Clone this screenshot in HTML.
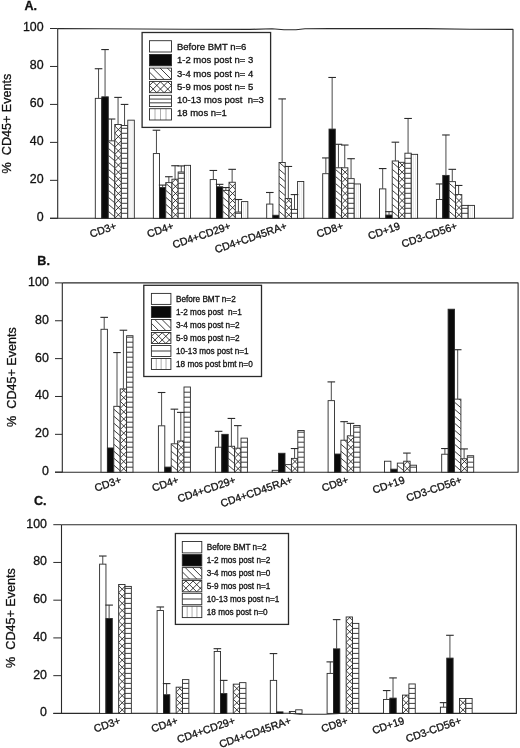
<!DOCTYPE html><html><head><meta charset="utf-8"><title>CD45+ Events</title><style>html,body{margin:0;padding:0;background:#fff;}svg{display:block;filter:grayscale(1) blur(0.35px);}text{stroke:#111;stroke-width:0.3px;}</style></head><body><svg width="520" height="748" viewBox="0 0 520 748" shape-rendering="geometricPrecision"><rect width="520" height="748" fill="#fff"/><text x="24.5" y="10.1" font-family="Liberation Sans" font-weight="bold" font-size="12.6" fill="#111">A.</text><text transform="translate(11.4 123.5) rotate(-90)" text-anchor="middle" font-family="Liberation Sans" font-size="12.6" fill="#111" xml:space="preserve">%  CD45+ Events</text><path d="M50 218.3H57.7" stroke="#2a2a2a" stroke-width="1"/><text x="43.6" y="221.2" text-anchor="end" font-family="Liberation Sans" font-size="12.4" fill="#111">0</text><path d="M50 180.34H57.7" stroke="#2a2a2a" stroke-width="1"/><text x="43.6" y="183.24" text-anchor="end" font-family="Liberation Sans" font-size="12.4" fill="#111">20</text><path d="M50 142.38H57.7" stroke="#2a2a2a" stroke-width="1"/><text x="43.6" y="145.28" text-anchor="end" font-family="Liberation Sans" font-size="12.4" fill="#111">40</text><path d="M50 104.42H57.7" stroke="#2a2a2a" stroke-width="1"/><text x="43.6" y="107.32" text-anchor="end" font-family="Liberation Sans" font-size="12.4" fill="#111">60</text><path d="M50 66.46H57.7" stroke="#2a2a2a" stroke-width="1"/><text x="43.6" y="69.36" text-anchor="end" font-family="Liberation Sans" font-size="12.4" fill="#111">80</text><path d="M50 28.5H57.7" stroke="#2a2a2a" stroke-width="1"/><text x="43.6" y="31.4" text-anchor="end" font-family="Liberation Sans" font-size="12.4" fill="#111">100</text><path d="M57.7 28.5V218.3L513 218.3V29.4L470 29.3L425 28.6L330 28.6L305 28.8L296 29.8L284 29.8L272 28.7L250 29.4L185 29.2L57.7 28.5" fill="none" stroke="#2a2a2a" stroke-width="1.1" stroke-linejoin="round"/><path d="M50 218.3H57.7" stroke="#2a2a2a" stroke-width="1.1"/><rect x="95.3" y="98.35" width="6.5" height="119.95" fill="#fff"/><rect x="95.3" y="98.35" width="6.5" height="119.95" fill="none" stroke="#2a2a2a" stroke-width="0.9"/><rect x="101.8" y="96.83" width="6.5" height="121.47" fill="#0a0a0a" stroke="#2a2a2a" stroke-width="0.9"/><rect x="108.3" y="140.86" width="6.5" height="77.44" fill="#fff"/><clipPath id="c1"><rect x="108.3" y="140.86" width="6.5" height="77.44"/></clipPath><g clip-path="url(#c1)" stroke="#1a1a1a" stroke-width="0.85" fill="none"><path d="M108.3 127.3L114.8 132.89M108.3 134.3L114.8 139.89M108.3 141.3L114.8 146.89M108.3 148.3L114.8 153.89M108.3 155.3L114.8 160.89M108.3 162.3L114.8 167.89M108.3 169.3L114.8 174.89M108.3 176.3L114.8 181.89M108.3 183.3L114.8 188.89M108.3 190.3L114.8 195.89M108.3 197.3L114.8 202.89M108.3 204.3L114.8 209.89M108.3 211.3L114.8 216.89M108.3 218.3L114.8 223.89M108.3 225.3L114.8 230.89"/></g><rect x="108.3" y="140.86" width="6.5" height="77.44" fill="none" stroke="#2a2a2a" stroke-width="0.9"/><rect x="114.8" y="124.54" width="6.5" height="93.76" fill="#fff"/><clipPath id="c2"><rect x="114.8" y="124.54" width="6.5" height="93.76"/></clipPath><g clip-path="url(#c2)" stroke="#1a1a1a" stroke-width="0.85" fill="none"><path d="M114.8 104.7L121.3 111.2M114.8 111.8L121.3 118.3M114.8 118.9L121.3 125.4M114.8 126L121.3 132.5M114.8 133.1L121.3 139.6M114.8 140.2L121.3 146.7M114.8 147.3L121.3 153.8M114.8 154.4L121.3 160.9M114.8 161.5L121.3 168M114.8 168.6L121.3 175.1M114.8 175.7L121.3 182.2M114.8 182.8L121.3 189.3M114.8 189.9L121.3 196.4M114.8 197L121.3 203.5M114.8 204.1L121.3 210.6M114.8 211.2L121.3 217.7M114.8 218.3L121.3 224.8M114.8 225.4L121.3 231.9M114.8 111.8L121.3 105.3M114.8 118.9L121.3 112.4M114.8 126L121.3 119.5M114.8 133.1L121.3 126.6M114.8 140.2L121.3 133.7M114.8 147.3L121.3 140.8M114.8 154.4L121.3 147.9M114.8 161.5L121.3 155M114.8 168.6L121.3 162.1M114.8 175.7L121.3 169.2M114.8 182.8L121.3 176.3M114.8 189.9L121.3 183.4M114.8 197L121.3 190.5M114.8 204.1L121.3 197.6M114.8 211.2L121.3 204.7M114.8 218.3L121.3 211.8M114.8 225.4L121.3 218.9M114.8 232.5L121.3 226"/></g><rect x="114.8" y="124.54" width="6.5" height="93.76" fill="none" stroke="#2a2a2a" stroke-width="0.9"/><rect x="121.3" y="125.49" width="6.5" height="92.81" fill="#fff"/><clipPath id="c3"><rect x="121.3" y="125.49" width="6.5" height="92.81"/></clipPath><g clip-path="url(#c3)" stroke="#1a1a1a" stroke-width="0.85" fill="none"><path d="M121.3 213.3H127.8M121.3 208.3H127.8M121.3 203.3H127.8M121.3 198.3H127.8M121.3 193.3H127.8M121.3 188.3H127.8M121.3 183.3H127.8M121.3 178.3H127.8M121.3 173.3H127.8M121.3 168.3H127.8M121.3 163.3H127.8M121.3 158.3H127.8M121.3 153.3H127.8M121.3 148.3H127.8M121.3 143.3H127.8M121.3 138.3H127.8M121.3 133.3H127.8M121.3 128.3H127.8"/></g><rect x="121.3" y="125.49" width="6.5" height="92.81" fill="none" stroke="#2a2a2a" stroke-width="0.9"/><rect x="127.8" y="120.17" width="6.5" height="98.13" fill="#fff"/><clipPath id="c4"><rect x="127.8" y="120.17" width="6.5" height="98.13"/></clipPath><g clip-path="url(#c4)" stroke="#d8d8d8" stroke-width="0.6" fill="none"><path d="M129.97 120.17V218.3M132.13 120.17V218.3"/></g><rect x="127.8" y="120.17" width="6.5" height="98.13" fill="none" stroke="#2a2a2a" stroke-width="0.9"/><path d="M98.55 98.35V68.74" stroke="#4a4a4a" stroke-width="1" fill="none"/><path d="M94.75 68.74H102.35" stroke="#2a2a2a" stroke-width="1.1" fill="none"/><path d="M105.05 96.83V49.57" stroke="#4a4a4a" stroke-width="1" fill="none"/><path d="M101.25 49.57H108.85" stroke="#2a2a2a" stroke-width="1.1" fill="none"/><path d="M111.55 140.86V119.03" stroke="#4a4a4a" stroke-width="1" fill="none"/><path d="M107.75 119.03H115.35" stroke="#2a2a2a" stroke-width="1.1" fill="none"/><path d="M118.05 124.54V97.4" stroke="#4a4a4a" stroke-width="1" fill="none"/><path d="M114.25 97.4H121.85" stroke="#2a2a2a" stroke-width="1.1" fill="none"/><path d="M124.55 125.49V104.42" stroke="#4a4a4a" stroke-width="1" fill="none"/><path d="M120.75 104.42H128.35" stroke="#2a2a2a" stroke-width="1.1" fill="none"/><text transform="translate(117.2 228.8) rotate(-19)" text-anchor="end" font-family="Liberation Sans" font-size="10.6" fill="#111">CD3+</text><rect x="153.35" y="153.58" width="6.2" height="64.72" fill="#fff"/><rect x="153.35" y="153.58" width="6.2" height="64.72" fill="none" stroke="#2a2a2a" stroke-width="0.9"/><rect x="159.55" y="187.55" width="6.2" height="30.75" fill="#0a0a0a" stroke="#2a2a2a" stroke-width="0.9"/><rect x="165.75" y="182.62" width="6.2" height="35.68" fill="#fff"/><clipPath id="c5"><rect x="165.75" y="182.62" width="6.2" height="35.68"/></clipPath><g clip-path="url(#c5)" stroke="#1a1a1a" stroke-width="0.85" fill="none"><path d="M165.75 169.3L171.95 174.63M165.75 176.3L171.95 181.63M165.75 183.3L171.95 188.63M165.75 190.3L171.95 195.63M165.75 197.3L171.95 202.63M165.75 204.3L171.95 209.63M165.75 211.3L171.95 216.63M165.75 218.3L171.95 223.63M165.75 225.3L171.95 230.63"/></g><rect x="165.75" y="182.62" width="6.2" height="35.68" fill="none" stroke="#2a2a2a" stroke-width="0.9"/><rect x="171.95" y="179.2" width="6.2" height="39.1" fill="#fff"/><clipPath id="c6"><rect x="171.95" y="179.2" width="6.2" height="39.1"/></clipPath><g clip-path="url(#c6)" stroke="#1a1a1a" stroke-width="0.85" fill="none"><path d="M171.95 161.5L178.15 167.7M171.95 168.6L178.15 174.8M171.95 175.7L178.15 181.9M171.95 182.8L178.15 189M171.95 189.9L178.15 196.1M171.95 197L178.15 203.2M171.95 204.1L178.15 210.3M171.95 211.2L178.15 217.4M171.95 218.3L178.15 224.5M171.95 225.4L178.15 231.6M171.95 168.6L178.15 162.4M171.95 175.7L178.15 169.5M171.95 182.8L178.15 176.6M171.95 189.9L178.15 183.7M171.95 197L178.15 190.8M171.95 204.1L178.15 197.9M171.95 211.2L178.15 205M171.95 218.3L178.15 212.1M171.95 225.4L178.15 219.2M171.95 232.5L178.15 226.3"/></g><rect x="171.95" y="179.2" width="6.2" height="39.1" fill="none" stroke="#2a2a2a" stroke-width="0.9"/><rect x="178.15" y="171.99" width="6.2" height="46.31" fill="#fff"/><clipPath id="c7"><rect x="178.15" y="171.99" width="6.2" height="46.31"/></clipPath><g clip-path="url(#c7)" stroke="#1a1a1a" stroke-width="0.85" fill="none"><path d="M178.15 213.3H184.35M178.15 208.3H184.35M178.15 203.3H184.35M178.15 198.3H184.35M178.15 193.3H184.35M178.15 188.3H184.35M178.15 183.3H184.35M178.15 178.3H184.35M178.15 173.3H184.35"/></g><rect x="178.15" y="171.99" width="6.2" height="46.31" fill="none" stroke="#2a2a2a" stroke-width="0.9"/><rect x="184.35" y="165.35" width="6.2" height="52.95" fill="#fff"/><clipPath id="c8"><rect x="184.35" y="165.35" width="6.2" height="52.95"/></clipPath><g clip-path="url(#c8)" stroke="#d8d8d8" stroke-width="0.6" fill="none"><path d="M186.42 165.35V218.3M188.48 165.35V218.3"/></g><rect x="184.35" y="165.35" width="6.2" height="52.95" fill="none" stroke="#2a2a2a" stroke-width="0.9"/><path d="M156.45 153.58V130.23" stroke="#4a4a4a" stroke-width="1" fill="none"/><path d="M152.65 130.23H160.25" stroke="#2a2a2a" stroke-width="1.1" fill="none"/><path d="M162.65 187.55V185.09" stroke="#4a4a4a" stroke-width="1" fill="none"/><path d="M158.85 185.09H166.45" stroke="#2a2a2a" stroke-width="1.1" fill="none"/><path d="M168.85 182.62V176.73" stroke="#4a4a4a" stroke-width="1" fill="none"/><path d="M165.05 176.73H172.65" stroke="#2a2a2a" stroke-width="1.1" fill="none"/><path d="M175.05 179.2V165.73" stroke="#4a4a4a" stroke-width="1" fill="none"/><path d="M171.25 165.73H178.85" stroke="#2a2a2a" stroke-width="1.1" fill="none"/><path d="M181.25 171.99V165.92" stroke="#4a4a4a" stroke-width="1" fill="none"/><path d="M177.45 165.92H185.05" stroke="#2a2a2a" stroke-width="1.1" fill="none"/><text transform="translate(174.35 228.8) rotate(-19)" text-anchor="end" font-family="Liberation Sans" font-size="10.6" fill="#111">CD4+</text><rect x="210.2" y="179.58" width="6.27" height="38.72" fill="#fff"/><rect x="210.2" y="179.58" width="6.27" height="38.72" fill="none" stroke="#2a2a2a" stroke-width="0.9"/><rect x="216.47" y="186.79" width="6.27" height="31.51" fill="#0a0a0a" stroke="#2a2a2a" stroke-width="0.9"/><rect x="222.74" y="190.4" width="6.27" height="27.9" fill="#fff"/><clipPath id="c9"><rect x="222.74" y="190.4" width="6.27" height="27.9"/></clipPath><g clip-path="url(#c9)" stroke="#1a1a1a" stroke-width="0.85" fill="none"><path d="M222.74 176.3L229.01 181.69M222.74 183.3L229.01 188.69M222.74 190.3L229.01 195.69M222.74 197.3L229.01 202.69M222.74 204.3L229.01 209.69M222.74 211.3L229.01 216.69M222.74 218.3L229.01 223.69M222.74 225.3L229.01 230.69"/></g><rect x="222.74" y="190.4" width="6.27" height="27.9" fill="none" stroke="#2a2a2a" stroke-width="0.9"/><rect x="229.01" y="182.24" width="6.27" height="36.06" fill="#fff"/><clipPath id="c10"><rect x="229.01" y="182.24" width="6.27" height="36.06"/></clipPath><g clip-path="url(#c10)" stroke="#1a1a1a" stroke-width="0.85" fill="none"><path d="M229.01 168.6L235.28 174.87M229.01 175.7L235.28 181.97M229.01 182.8L235.28 189.07M229.01 189.9L235.28 196.17M229.01 197L235.28 203.27M229.01 204.1L235.28 210.37M229.01 211.2L235.28 217.47M229.01 218.3L235.28 224.57M229.01 225.4L235.28 231.67M229.01 168.6L235.28 162.33M229.01 175.7L235.28 169.43M229.01 182.8L235.28 176.53M229.01 189.9L235.28 183.63M229.01 197L235.28 190.73M229.01 204.1L235.28 197.83M229.01 211.2L235.28 204.93M229.01 218.3L235.28 212.03M229.01 225.4L235.28 219.13M229.01 232.5L235.28 226.23"/></g><rect x="229.01" y="182.24" width="6.27" height="36.06" fill="none" stroke="#2a2a2a" stroke-width="0.9"/><rect x="235.28" y="212.04" width="6.27" height="6.26" fill="#fff"/><clipPath id="c11"><rect x="235.28" y="212.04" width="6.27" height="6.26"/></clipPath><g clip-path="url(#c11)" stroke="#1a1a1a" stroke-width="0.85" fill="none"><path d="M235.28 213.3H241.55"/></g><rect x="235.28" y="212.04" width="6.27" height="6.26" fill="none" stroke="#2a2a2a" stroke-width="0.9"/><rect x="241.55" y="201.6" width="6.27" height="16.7" fill="#fff"/><clipPath id="c12"><rect x="241.55" y="201.6" width="6.27" height="16.7"/></clipPath><g clip-path="url(#c12)" stroke="#d8d8d8" stroke-width="0.6" fill="none"><path d="M243.64 201.6V218.3M245.73 201.6V218.3"/></g><rect x="241.55" y="201.6" width="6.27" height="16.7" fill="none" stroke="#2a2a2a" stroke-width="0.9"/><path d="M213.33 179.58V170.47" stroke="#4a4a4a" stroke-width="1" fill="none"/><path d="M209.53 170.47H217.13" stroke="#2a2a2a" stroke-width="1.1" fill="none"/><path d="M219.6 186.79V184.33" stroke="#4a4a4a" stroke-width="1" fill="none"/><path d="M215.8 184.33H223.41" stroke="#2a2a2a" stroke-width="1.1" fill="none"/><path d="M225.87 190.4V187.55" stroke="#4a4a4a" stroke-width="1" fill="none"/><path d="M222.07 187.55H229.67" stroke="#2a2a2a" stroke-width="1.1" fill="none"/><path d="M232.14 182.24V169.33" stroke="#4a4a4a" stroke-width="1" fill="none"/><path d="M228.34 169.33H235.94" stroke="#2a2a2a" stroke-width="1.1" fill="none"/><path d="M238.41 212.04V199.51" stroke="#4a4a4a" stroke-width="1" fill="none"/><path d="M234.61 199.51H242.21" stroke="#2a2a2a" stroke-width="1.1" fill="none"/><text transform="translate(231.41 228.8) rotate(-19)" text-anchor="end" font-family="Liberation Sans" font-size="10.6" fill="#111">CD4+CD29+</text><rect x="266.7" y="204.06" width="6.18" height="14.24" fill="#fff"/><rect x="266.7" y="204.06" width="6.18" height="14.24" fill="none" stroke="#2a2a2a" stroke-width="0.9"/><rect x="272.88" y="215.26" width="6.18" height="3.04" fill="#0a0a0a" stroke="#2a2a2a" stroke-width="0.9"/><rect x="279.06" y="162.5" width="6.18" height="55.8" fill="#fff"/><clipPath id="c13"><rect x="279.06" y="162.5" width="6.18" height="55.8"/></clipPath><g clip-path="url(#c13)" stroke="#1a1a1a" stroke-width="0.85" fill="none"><path d="M279.06 148.3L285.24 153.61M279.06 155.3L285.24 160.61M279.06 162.3L285.24 167.61M279.06 169.3L285.24 174.61M279.06 176.3L285.24 181.61M279.06 183.3L285.24 188.61M279.06 190.3L285.24 195.61M279.06 197.3L285.24 202.61M279.06 204.3L285.24 209.61M279.06 211.3L285.24 216.61M279.06 218.3L285.24 223.61M279.06 225.3L285.24 230.61"/></g><rect x="279.06" y="162.5" width="6.18" height="55.8" fill="none" stroke="#2a2a2a" stroke-width="0.9"/><rect x="285.24" y="198.56" width="6.18" height="19.74" fill="#fff"/><clipPath id="c14"><rect x="285.24" y="198.56" width="6.18" height="19.74"/></clipPath><g clip-path="url(#c14)" stroke="#1a1a1a" stroke-width="0.85" fill="none"><path d="M285.24 182.8L291.42 188.98M285.24 189.9L291.42 196.08M285.24 197L291.42 203.18M285.24 204.1L291.42 210.28M285.24 211.2L291.42 217.38M285.24 218.3L291.42 224.48M285.24 225.4L291.42 231.58M285.24 189.9L291.42 183.72M285.24 197L291.42 190.82M285.24 204.1L291.42 197.92M285.24 211.2L291.42 205.02M285.24 218.3L291.42 212.12M285.24 225.4L291.42 219.22M285.24 232.5L291.42 226.32"/></g><rect x="285.24" y="198.56" width="6.18" height="19.74" fill="none" stroke="#2a2a2a" stroke-width="0.9"/><rect x="291.42" y="209.38" width="6.18" height="8.92" fill="#fff"/><clipPath id="c15"><rect x="291.42" y="209.38" width="6.18" height="8.92"/></clipPath><g clip-path="url(#c15)" stroke="#1a1a1a" stroke-width="0.85" fill="none"><path d="M291.42 213.3H297.6"/></g><rect x="291.42" y="209.38" width="6.18" height="8.92" fill="none" stroke="#2a2a2a" stroke-width="0.9"/><rect x="297.6" y="181.48" width="6.18" height="36.82" fill="#fff"/><clipPath id="c16"><rect x="297.6" y="181.48" width="6.18" height="36.82"/></clipPath><g clip-path="url(#c16)" stroke="#d8d8d8" stroke-width="0.6" fill="none"><path d="M299.66 181.48V218.3M301.72 181.48V218.3"/></g><rect x="297.6" y="181.48" width="6.18" height="36.82" fill="none" stroke="#2a2a2a" stroke-width="0.9"/><path d="M269.79 204.06V192.49" stroke="#4a4a4a" stroke-width="1" fill="none"/><path d="M265.99 192.49H273.59" stroke="#2a2a2a" stroke-width="1.1" fill="none"/><path d="M282.15 162.5V98.92" stroke="#4a4a4a" stroke-width="1" fill="none"/><path d="M278.35 98.92H285.95" stroke="#2a2a2a" stroke-width="1.1" fill="none"/><path d="M288.33 198.56V166.48" stroke="#4a4a4a" stroke-width="1" fill="none"/><path d="M284.53 166.48H292.13" stroke="#2a2a2a" stroke-width="1.1" fill="none"/><path d="M294.51 209.38V194.58" stroke="#4a4a4a" stroke-width="1" fill="none"/><path d="M290.71 194.58H298.31" stroke="#2a2a2a" stroke-width="1.1" fill="none"/><text transform="translate(287.64 228.8) rotate(-19)" text-anchor="end" font-family="Liberation Sans" font-size="10.6" fill="#111">CD4+CD45RA+</text><rect x="322.7" y="173.7" width="6.3" height="44.6" fill="#fff"/><rect x="322.7" y="173.7" width="6.3" height="44.6" fill="none" stroke="#2a2a2a" stroke-width="0.9"/><rect x="329" y="129.09" width="6.3" height="89.21" fill="#0a0a0a" stroke="#2a2a2a" stroke-width="0.9"/><rect x="335.3" y="167.81" width="6.3" height="50.49" fill="#fff"/><clipPath id="c17"><rect x="335.3" y="167.81" width="6.3" height="50.49"/></clipPath><g clip-path="url(#c17)" stroke="#1a1a1a" stroke-width="0.85" fill="none"><path d="M335.3 155.3L341.6 160.72M335.3 162.3L341.6 167.72M335.3 169.3L341.6 174.72M335.3 176.3L341.6 181.72M335.3 183.3L341.6 188.72M335.3 190.3L341.6 195.72M335.3 197.3L341.6 202.72M335.3 204.3L341.6 209.72M335.3 211.3L341.6 216.72M335.3 218.3L341.6 223.72M335.3 225.3L341.6 230.72"/></g><rect x="335.3" y="167.81" width="6.3" height="50.49" fill="none" stroke="#2a2a2a" stroke-width="0.9"/><rect x="341.6" y="167.81" width="6.3" height="50.49" fill="#fff"/><clipPath id="c18"><rect x="341.6" y="167.81" width="6.3" height="50.49"/></clipPath><g clip-path="url(#c18)" stroke="#1a1a1a" stroke-width="0.85" fill="none"><path d="M341.6 154.4L347.9 160.7M341.6 161.5L347.9 167.8M341.6 168.6L347.9 174.9M341.6 175.7L347.9 182M341.6 182.8L347.9 189.1M341.6 189.9L347.9 196.2M341.6 197L347.9 203.3M341.6 204.1L347.9 210.4M341.6 211.2L347.9 217.5M341.6 218.3L347.9 224.6M341.6 225.4L347.9 231.7M341.6 154.4L347.9 148.1M341.6 161.5L347.9 155.2M341.6 168.6L347.9 162.3M341.6 175.7L347.9 169.4M341.6 182.8L347.9 176.5M341.6 189.9L347.9 183.6M341.6 197L347.9 190.7M341.6 204.1L347.9 197.8M341.6 211.2L347.9 204.9M341.6 218.3L347.9 212M341.6 225.4L347.9 219.1M341.6 232.5L347.9 226.2"/></g><rect x="341.6" y="167.81" width="6.3" height="50.49" fill="none" stroke="#2a2a2a" stroke-width="0.9"/><rect x="347.9" y="178.63" width="6.3" height="39.67" fill="#fff"/><clipPath id="c19"><rect x="347.9" y="178.63" width="6.3" height="39.67"/></clipPath><g clip-path="url(#c19)" stroke="#1a1a1a" stroke-width="0.85" fill="none"><path d="M347.9 213.3H354.2M347.9 208.3H354.2M347.9 203.3H354.2M347.9 198.3H354.2M347.9 193.3H354.2M347.9 188.3H354.2M347.9 183.3H354.2"/></g><rect x="347.9" y="178.63" width="6.3" height="39.67" fill="none" stroke="#2a2a2a" stroke-width="0.9"/><rect x="354.2" y="183.95" width="6.3" height="34.35" fill="#fff"/><clipPath id="c20"><rect x="354.2" y="183.95" width="6.3" height="34.35"/></clipPath><g clip-path="url(#c20)" stroke="#d8d8d8" stroke-width="0.6" fill="none"><path d="M356.3 183.95V218.3M358.4 183.95V218.3"/></g><rect x="354.2" y="183.95" width="6.3" height="34.35" fill="none" stroke="#2a2a2a" stroke-width="0.9"/><path d="M325.85 173.7V157.94" stroke="#4a4a4a" stroke-width="1" fill="none"/><path d="M322.05 157.94H329.65" stroke="#2a2a2a" stroke-width="1.1" fill="none"/><path d="M332.15 129.09V77.47" stroke="#4a4a4a" stroke-width="1" fill="none"/><path d="M328.35 77.47H335.95" stroke="#2a2a2a" stroke-width="1.1" fill="none"/><path d="M338.45 167.81V144.28" stroke="#4a4a4a" stroke-width="1" fill="none"/><path d="M334.65 144.28H342.25" stroke="#2a2a2a" stroke-width="1.1" fill="none"/><path d="M344.75 167.81V145.04" stroke="#4a4a4a" stroke-width="1" fill="none"/><path d="M340.95 145.04H348.55" stroke="#2a2a2a" stroke-width="1.1" fill="none"/><path d="M351.05 178.63V158.7" stroke="#4a4a4a" stroke-width="1" fill="none"/><path d="M347.25 158.7H354.85" stroke="#2a2a2a" stroke-width="1.1" fill="none"/><text transform="translate(344 228.8) rotate(-19)" text-anchor="end" font-family="Liberation Sans" font-size="10.6" fill="#111">CD8+</text><rect x="379.5" y="188.88" width="6.35" height="29.42" fill="#fff"/><rect x="379.5" y="188.88" width="6.35" height="29.42" fill="none" stroke="#2a2a2a" stroke-width="0.9"/><rect x="385.85" y="215.07" width="6.35" height="3.23" fill="#0a0a0a" stroke="#2a2a2a" stroke-width="0.9"/><rect x="392.2" y="160.98" width="6.35" height="57.32" fill="#fff"/><clipPath id="c21"><rect x="392.2" y="160.98" width="6.35" height="57.32"/></clipPath><g clip-path="url(#c21)" stroke="#1a1a1a" stroke-width="0.85" fill="none"><path d="M392.2 148.3L398.55 153.76M392.2 155.3L398.55 160.76M392.2 162.3L398.55 167.76M392.2 169.3L398.55 174.76M392.2 176.3L398.55 181.76M392.2 183.3L398.55 188.76M392.2 190.3L398.55 195.76M392.2 197.3L398.55 202.76M392.2 204.3L398.55 209.76M392.2 211.3L398.55 216.76M392.2 218.3L398.55 223.76M392.2 225.3L398.55 230.76"/></g><rect x="392.2" y="160.98" width="6.35" height="57.32" fill="none" stroke="#2a2a2a" stroke-width="0.9"/><rect x="398.55" y="162.31" width="6.35" height="55.99" fill="#fff"/><clipPath id="c22"><rect x="398.55" y="162.31" width="6.35" height="55.99"/></clipPath><g clip-path="url(#c22)" stroke="#1a1a1a" stroke-width="0.85" fill="none"><path d="M398.55 147.3L404.9 153.65M398.55 154.4L404.9 160.75M398.55 161.5L404.9 167.85M398.55 168.6L404.9 174.95M398.55 175.7L404.9 182.05M398.55 182.8L404.9 189.15M398.55 189.9L404.9 196.25M398.55 197L404.9 203.35M398.55 204.1L404.9 210.45M398.55 211.2L404.9 217.55M398.55 218.3L404.9 224.65M398.55 225.4L404.9 231.75M398.55 154.4L404.9 148.05M398.55 161.5L404.9 155.15M398.55 168.6L404.9 162.25M398.55 175.7L404.9 169.35M398.55 182.8L404.9 176.45M398.55 189.9L404.9 183.55M398.55 197L404.9 190.65M398.55 204.1L404.9 197.75M398.55 211.2L404.9 204.85M398.55 218.3L404.9 211.95M398.55 225.4L404.9 219.05M398.55 232.5L404.9 226.15"/></g><rect x="398.55" y="162.31" width="6.35" height="55.99" fill="none" stroke="#2a2a2a" stroke-width="0.9"/><rect x="404.9" y="153.2" width="6.35" height="65.1" fill="#fff"/><clipPath id="c23"><rect x="404.9" y="153.2" width="6.35" height="65.1"/></clipPath><g clip-path="url(#c23)" stroke="#1a1a1a" stroke-width="0.85" fill="none"><path d="M404.9 213.3H411.25M404.9 208.3H411.25M404.9 203.3H411.25M404.9 198.3H411.25M404.9 193.3H411.25M404.9 188.3H411.25M404.9 183.3H411.25M404.9 178.3H411.25M404.9 173.3H411.25M404.9 168.3H411.25M404.9 163.3H411.25M404.9 158.3H411.25"/></g><rect x="404.9" y="153.2" width="6.35" height="65.1" fill="none" stroke="#2a2a2a" stroke-width="0.9"/><rect x="411.25" y="154.34" width="6.35" height="63.96" fill="#fff"/><clipPath id="c24"><rect x="411.25" y="154.34" width="6.35" height="63.96"/></clipPath><g clip-path="url(#c24)" stroke="#d8d8d8" stroke-width="0.6" fill="none"><path d="M413.37 154.34V218.3M415.48 154.34V218.3"/></g><rect x="411.25" y="154.34" width="6.35" height="63.96" fill="none" stroke="#2a2a2a" stroke-width="0.9"/><path d="M382.68 188.88V168.57" stroke="#4a4a4a" stroke-width="1" fill="none"/><path d="M378.88 168.57H386.48" stroke="#2a2a2a" stroke-width="1.1" fill="none"/><path d="M389.03 215.07V211.66" stroke="#4a4a4a" stroke-width="1" fill="none"/><path d="M385.23 211.66H392.83" stroke="#2a2a2a" stroke-width="1.1" fill="none"/><path d="M395.38 160.98V142.19" stroke="#4a4a4a" stroke-width="1" fill="none"/><path d="M391.57 142.19H399.18" stroke="#2a2a2a" stroke-width="1.1" fill="none"/><path d="M408.07 153.2V118.47" stroke="#4a4a4a" stroke-width="1" fill="none"/><path d="M404.27 118.47H411.88" stroke="#2a2a2a" stroke-width="1.1" fill="none"/><text transform="translate(400.95 228.8) rotate(-19)" text-anchor="end" font-family="Liberation Sans" font-size="10.6" fill="#111">CD+19</text><rect x="436.4" y="199.51" width="6.35" height="18.79" fill="#fff"/><rect x="436.4" y="199.51" width="6.35" height="18.79" fill="none" stroke="#2a2a2a" stroke-width="0.9"/><rect x="442.75" y="175.41" width="6.35" height="42.89" fill="#0a0a0a" stroke="#2a2a2a" stroke-width="0.9"/><rect x="449.1" y="181.67" width="6.35" height="36.63" fill="#fff"/><clipPath id="c25"><rect x="449.1" y="181.67" width="6.35" height="36.63"/></clipPath><g clip-path="url(#c25)" stroke="#1a1a1a" stroke-width="0.85" fill="none"><path d="M449.1 162.3L455.45 167.76M449.1 169.3L455.45 174.76M449.1 176.3L455.45 181.76M449.1 183.3L455.45 188.76M449.1 190.3L455.45 195.76M449.1 197.3L455.45 202.76M449.1 204.3L455.45 209.76M449.1 211.3L455.45 216.76M449.1 218.3L455.45 223.76M449.1 225.3L455.45 230.76"/></g><rect x="449.1" y="181.67" width="6.35" height="36.63" fill="none" stroke="#2a2a2a" stroke-width="0.9"/><rect x="455.45" y="194.58" width="6.35" height="23.72" fill="#fff"/><clipPath id="c26"><rect x="455.45" y="194.58" width="6.35" height="23.72"/></clipPath><g clip-path="url(#c26)" stroke="#1a1a1a" stroke-width="0.85" fill="none"><path d="M455.45 175.7L461.8 182.05M455.45 182.8L461.8 189.15M455.45 189.9L461.8 196.25M455.45 197L461.8 203.35M455.45 204.1L461.8 210.45M455.45 211.2L461.8 217.55M455.45 218.3L461.8 224.65M455.45 225.4L461.8 231.75M455.45 182.8L461.8 176.45M455.45 189.9L461.8 183.55M455.45 197L461.8 190.65M455.45 204.1L461.8 197.75M455.45 211.2L461.8 204.85M455.45 218.3L461.8 211.95M455.45 225.4L461.8 219.05M455.45 232.5L461.8 226.15"/></g><rect x="455.45" y="194.58" width="6.35" height="23.72" fill="none" stroke="#2a2a2a" stroke-width="0.9"/><rect x="461.8" y="205.39" width="6.35" height="12.91" fill="#fff"/><clipPath id="c27"><rect x="461.8" y="205.39" width="6.35" height="12.91"/></clipPath><g clip-path="url(#c27)" stroke="#1a1a1a" stroke-width="0.85" fill="none"><path d="M461.8 213.3H468.15M461.8 208.3H468.15"/></g><rect x="461.8" y="205.39" width="6.35" height="12.91" fill="none" stroke="#2a2a2a" stroke-width="0.9"/><rect x="468.15" y="205.39" width="6.35" height="12.91" fill="#fff"/><clipPath id="c28"><rect x="468.15" y="205.39" width="6.35" height="12.91"/></clipPath><g clip-path="url(#c28)" stroke="#d8d8d8" stroke-width="0.6" fill="none"><path d="M470.27 205.39V218.3M472.38 205.39V218.3"/></g><rect x="468.15" y="205.39" width="6.35" height="12.91" fill="none" stroke="#2a2a2a" stroke-width="0.9"/><path d="M439.57 199.51V183.95" stroke="#4a4a4a" stroke-width="1" fill="none"/><path d="M435.77 183.95H443.38" stroke="#2a2a2a" stroke-width="1.1" fill="none"/><path d="M445.93 175.41V134.98" stroke="#4a4a4a" stroke-width="1" fill="none"/><path d="M442.12 134.98H449.73" stroke="#2a2a2a" stroke-width="1.1" fill="none"/><path d="M452.27 181.67V169.33" stroke="#4a4a4a" stroke-width="1" fill="none"/><path d="M448.47 169.33H456.07" stroke="#2a2a2a" stroke-width="1.1" fill="none"/><path d="M458.62 194.58V185.46" stroke="#4a4a4a" stroke-width="1" fill="none"/><path d="M454.82 185.46H462.43" stroke="#2a2a2a" stroke-width="1.1" fill="none"/><text transform="translate(457.85 228.8) rotate(-19)" text-anchor="end" font-family="Liberation Sans" font-size="10.6" fill="#111">CD3-CD56+</text><rect x="142.1" y="32.5" width="128.5" height="94.9" fill="#fff" stroke="#2a2a2a" stroke-width="1.3"/><rect x="149.5" y="40.7" width="22" height="11.3" fill="#fff"/><rect x="149.5" y="40.7" width="22" height="11.3" fill="none" stroke="#2a2a2a" stroke-width="0.9"/><text x="177" y="49.9" font-family="Liberation Sans" font-size="9.5" fill="#111" xml:space="preserve">Before BMT n=6</text><rect x="149.5" y="54.5" width="22" height="11.3" fill="#0a0a0a" stroke="#2a2a2a" stroke-width="0.9"/><text x="177" y="63" font-family="Liberation Sans" font-size="9.5" fill="#111" xml:space="preserve">1-2 mos post n= 3</text><rect x="149.5" y="68.1" width="22" height="11.3" fill="#fff"/><clipPath id="c29"><rect x="149.5" y="68.1" width="22" height="11.3"/></clipPath><g clip-path="url(#c29)" stroke="#1a1a1a" stroke-width="0.85" fill="none"><path d="M149.5 35.6L171.5 57.6M149.5 42.9L171.5 64.9M149.5 50.2L171.5 72.2M149.5 57.5L171.5 79.5M149.5 64.8L171.5 86.8M149.5 72.1L171.5 94.1M149.5 79.4L171.5 101.4M149.5 86.7L171.5 108.7"/></g><rect x="149.5" y="68.1" width="22" height="11.3" fill="none" stroke="#2a2a2a" stroke-width="0.9"/><text x="177" y="76.6" font-family="Liberation Sans" font-size="9.5" fill="#111" xml:space="preserve">3-4 mos post n= 4</text><rect x="149.5" y="81.4" width="22" height="11.3" fill="#fff"/><clipPath id="c30"><rect x="149.5" y="81.4" width="22" height="11.3"/></clipPath><g clip-path="url(#c30)" stroke="#1a1a1a" stroke-width="0.85" fill="none"><path d="M149.5 48.9L171.5 70.9M149.5 56.2L171.5 78.2M149.5 63.5L171.5 85.5M149.5 70.8L171.5 92.8M149.5 78.1L171.5 100.1M149.5 85.4L171.5 107.4M149.5 92.7L171.5 114.7M149.5 100L171.5 122M149.5 70.8L171.5 48.8M149.5 78.1L171.5 56.1M149.5 85.4L171.5 63.4M149.5 92.7L171.5 70.7M149.5 100L171.5 78M149.5 107.3L171.5 85.3M149.5 114.6L171.5 92.6M149.5 121.9L171.5 99.9M149.5 129.2L171.5 107.2"/></g><rect x="149.5" y="81.4" width="22" height="11.3" fill="none" stroke="#2a2a2a" stroke-width="0.9"/><text x="177" y="89.7" font-family="Liberation Sans" font-size="9.5" fill="#111" xml:space="preserve">5-9 mos post n= 5</text><rect x="149.5" y="95.3" width="22" height="11.3" fill="#fff"/><clipPath id="c31"><rect x="149.5" y="95.3" width="22" height="11.3"/></clipPath><g clip-path="url(#c31)" stroke="#1a1a1a" stroke-width="0.85" fill="none"><path d="M149.5 102.83H171.5M149.5 99.07H171.5"/></g><rect x="149.5" y="95.3" width="22" height="11.3" fill="none" stroke="#2a2a2a" stroke-width="0.9"/><text x="177" y="103.1" font-family="Liberation Sans" font-size="9.5" fill="#111" xml:space="preserve">10-13 mos post  n=3</text><rect x="149.5" y="108.7" width="22" height="11.3" fill="#fff"/><clipPath id="c32"><rect x="149.5" y="108.7" width="22" height="11.3"/></clipPath><g clip-path="url(#c32)" stroke="#999" stroke-width="0.8" fill="none"><path d="M155 108.7V120M160.5 108.7V120M166 108.7V120"/></g><rect x="149.5" y="108.7" width="22" height="11.3" fill="none" stroke="#2a2a2a" stroke-width="0.9"/><text x="177" y="116.1" font-family="Liberation Sans" font-size="9.5" fill="#111" xml:space="preserve">18 mos n=1</text><text x="37.3" y="265.3" font-family="Liberation Sans" font-weight="bold" font-size="12.6" fill="#111">B.</text><text transform="translate(16.3 377) rotate(-90)" text-anchor="middle" font-family="Liberation Sans" font-size="12.6" fill="#111" xml:space="preserve">%  CD45+ Events</text><path d="M55 472.2H62.3" stroke="#2a2a2a" stroke-width="1"/><text x="48.8" y="475.1" text-anchor="end" font-family="Liberation Sans" font-size="12.4" fill="#111">0</text><path d="M55 434.34H62.3" stroke="#2a2a2a" stroke-width="1"/><text x="48.8" y="437.24" text-anchor="end" font-family="Liberation Sans" font-size="12.4" fill="#111">20</text><path d="M55 396.48H62.3" stroke="#2a2a2a" stroke-width="1"/><text x="48.8" y="399.38" text-anchor="end" font-family="Liberation Sans" font-size="12.4" fill="#111">40</text><path d="M55 358.62H62.3" stroke="#2a2a2a" stroke-width="1"/><text x="48.8" y="361.52" text-anchor="end" font-family="Liberation Sans" font-size="12.4" fill="#111">60</text><path d="M55 320.76H62.3" stroke="#2a2a2a" stroke-width="1"/><text x="48.8" y="323.66" text-anchor="end" font-family="Liberation Sans" font-size="12.4" fill="#111">80</text><path d="M55 282.9H62.3" stroke="#2a2a2a" stroke-width="1"/><text x="48.8" y="285.8" text-anchor="end" font-family="Liberation Sans" font-size="12.4" fill="#111">100</text><path d="M62.3 282.9V472.2L518.1 472.2V282.9L62.3 282.9" fill="none" stroke="#2a2a2a" stroke-width="1.1" stroke-linejoin="round"/><path d="M55 472.2H62.3" stroke="#2a2a2a" stroke-width="1.1"/><rect x="101" y="329.28" width="6.4" height="142.92" fill="#fff"/><rect x="101" y="329.28" width="6.4" height="142.92" fill="none" stroke="#2a2a2a" stroke-width="0.9"/><rect x="107.4" y="447.97" width="6.4" height="24.23" fill="#0a0a0a" stroke="#2a2a2a" stroke-width="0.9"/><rect x="113.8" y="406.32" width="6.4" height="65.88" fill="#fff"/><clipPath id="c33"><rect x="113.8" y="406.32" width="6.4" height="65.88"/></clipPath><g clip-path="url(#c33)" stroke="#1a1a1a" stroke-width="0.85" fill="none"><path d="M113.8 388.2L120.2 393.7M113.8 395.2L120.2 400.7M113.8 402.2L120.2 407.7M113.8 409.2L120.2 414.7M113.8 416.2L120.2 421.7M113.8 423.2L120.2 428.7M113.8 430.2L120.2 435.7M113.8 437.2L120.2 442.7M113.8 444.2L120.2 449.7M113.8 451.2L120.2 456.7M113.8 458.2L120.2 463.7M113.8 465.2L120.2 470.7M113.8 472.2L120.2 477.7M113.8 479.2L120.2 484.7"/></g><rect x="113.8" y="406.32" width="6.4" height="65.88" fill="none" stroke="#2a2a2a" stroke-width="0.9"/><rect x="120.2" y="388.91" width="6.4" height="83.29" fill="#fff"/><clipPath id="c34"><rect x="120.2" y="388.91" width="6.4" height="83.29"/></clipPath><g clip-path="url(#c34)" stroke="#1a1a1a" stroke-width="0.85" fill="none"><path d="M120.2 372.8L126.6 379.2M120.2 379.9L126.6 386.3M120.2 387L126.6 393.4M120.2 394.1L126.6 400.5M120.2 401.2L126.6 407.6M120.2 408.3L126.6 414.7M120.2 415.4L126.6 421.8M120.2 422.5L126.6 428.9M120.2 429.6L126.6 436M120.2 436.7L126.6 443.1M120.2 443.8L126.6 450.2M120.2 450.9L126.6 457.3M120.2 458L126.6 464.4M120.2 465.1L126.6 471.5M120.2 472.2L126.6 478.6M120.2 479.3L126.6 485.7M120.2 379.9L126.6 373.5M120.2 387L126.6 380.6M120.2 394.1L126.6 387.7M120.2 401.2L126.6 394.8M120.2 408.3L126.6 401.9M120.2 415.4L126.6 409M120.2 422.5L126.6 416.1M120.2 429.6L126.6 423.2M120.2 436.7L126.6 430.3M120.2 443.8L126.6 437.4M120.2 450.9L126.6 444.5M120.2 458L126.6 451.6M120.2 465.1L126.6 458.7M120.2 472.2L126.6 465.8M120.2 479.3L126.6 472.9M120.2 486.4L126.6 480"/></g><rect x="120.2" y="388.91" width="6.4" height="83.29" fill="none" stroke="#2a2a2a" stroke-width="0.9"/><rect x="126.6" y="335.71" width="6.4" height="136.49" fill="#fff"/><clipPath id="c35"><rect x="126.6" y="335.71" width="6.4" height="136.49"/></clipPath><g clip-path="url(#c35)" stroke="#1a1a1a" stroke-width="0.85" fill="none"><path d="M126.6 467.2H133M126.6 462.2H133M126.6 457.2H133M126.6 452.2H133M126.6 447.2H133M126.6 442.2H133M126.6 437.2H133M126.6 432.2H133M126.6 427.2H133M126.6 422.2H133M126.6 417.2H133M126.6 412.2H133M126.6 407.2H133M126.6 402.2H133M126.6 397.2H133M126.6 392.2H133M126.6 387.2H133M126.6 382.2H133M126.6 377.2H133M126.6 372.2H133M126.6 367.2H133M126.6 362.2H133M126.6 357.2H133M126.6 352.2H133M126.6 347.2H133M126.6 342.2H133M126.6 337.2H133"/></g><rect x="126.6" y="335.71" width="6.4" height="136.49" fill="none" stroke="#2a2a2a" stroke-width="0.9"/><path d="M104.2 329.28V317.35" stroke="#4a4a4a" stroke-width="1" fill="none"/><path d="M100.4 317.35H108" stroke="#2a2a2a" stroke-width="1.1" fill="none"/><path d="M117 406.32V352.56" stroke="#4a4a4a" stroke-width="1" fill="none"/><path d="M113.2 352.56H120.8" stroke="#2a2a2a" stroke-width="1.1" fill="none"/><path d="M123.4 388.91V330.23" stroke="#4a4a4a" stroke-width="1" fill="none"/><path d="M119.6 330.23H127.2" stroke="#2a2a2a" stroke-width="1.1" fill="none"/><text transform="translate(122 482.8) rotate(-19)" text-anchor="end" font-family="Liberation Sans" font-size="10.6" fill="#111">CD3+</text><rect x="158.4" y="425.82" width="6.4" height="46.38" fill="#fff"/><rect x="158.4" y="425.82" width="6.4" height="46.38" fill="none" stroke="#2a2a2a" stroke-width="0.9"/><rect x="164.8" y="467.09" width="6.4" height="5.11" fill="#0a0a0a" stroke="#2a2a2a" stroke-width="0.9"/><rect x="171.2" y="443.81" width="6.4" height="28.39" fill="#fff"/><clipPath id="c36"><rect x="171.2" y="443.81" width="6.4" height="28.39"/></clipPath><g clip-path="url(#c36)" stroke="#1a1a1a" stroke-width="0.85" fill="none"><path d="M171.2 430.2L177.6 435.7M171.2 437.2L177.6 442.7M171.2 444.2L177.6 449.7M171.2 451.2L177.6 456.7M171.2 458.2L177.6 463.7M171.2 465.2L177.6 470.7M171.2 472.2L177.6 477.7M171.2 479.2L177.6 484.7"/></g><rect x="171.2" y="443.81" width="6.4" height="28.39" fill="none" stroke="#2a2a2a" stroke-width="0.9"/><rect x="177.6" y="440.97" width="6.4" height="31.23" fill="#fff"/><clipPath id="c37"><rect x="177.6" y="440.97" width="6.4" height="31.23"/></clipPath><g clip-path="url(#c37)" stroke="#1a1a1a" stroke-width="0.85" fill="none"><path d="M177.6 422.5L184 428.9M177.6 429.6L184 436M177.6 436.7L184 443.1M177.6 443.8L184 450.2M177.6 450.9L184 457.3M177.6 458L184 464.4M177.6 465.1L184 471.5M177.6 472.2L184 478.6M177.6 479.3L184 485.7M177.6 429.6L184 423.2M177.6 436.7L184 430.3M177.6 443.8L184 437.4M177.6 450.9L184 444.5M177.6 458L184 451.6M177.6 465.1L184 458.7M177.6 472.2L184 465.8M177.6 479.3L184 472.9M177.6 486.4L184 480"/></g><rect x="177.6" y="440.97" width="6.4" height="31.23" fill="none" stroke="#2a2a2a" stroke-width="0.9"/><rect x="184" y="387.01" width="6.4" height="85.19" fill="#fff"/><clipPath id="c38"><rect x="184" y="387.01" width="6.4" height="85.19"/></clipPath><g clip-path="url(#c38)" stroke="#1a1a1a" stroke-width="0.85" fill="none"><path d="M184 467.2H190.4M184 462.2H190.4M184 457.2H190.4M184 452.2H190.4M184 447.2H190.4M184 442.2H190.4M184 437.2H190.4M184 432.2H190.4M184 427.2H190.4M184 422.2H190.4M184 417.2H190.4M184 412.2H190.4M184 407.2H190.4M184 402.2H190.4M184 397.2H190.4M184 392.2H190.4"/></g><rect x="184" y="387.01" width="6.4" height="85.19" fill="none" stroke="#2a2a2a" stroke-width="0.9"/><path d="M161.6 425.82V392.5" stroke="#4a4a4a" stroke-width="1" fill="none"/><path d="M157.8 392.5H165.4" stroke="#2a2a2a" stroke-width="1.1" fill="none"/><path d="M174.4 443.81V409.16" stroke="#4a4a4a" stroke-width="1" fill="none"/><path d="M170.6 409.16H178.2" stroke="#2a2a2a" stroke-width="1.1" fill="none"/><path d="M180.8 440.97V412.38" stroke="#4a4a4a" stroke-width="1" fill="none"/><path d="M177 412.38H184.6" stroke="#2a2a2a" stroke-width="1.1" fill="none"/><text transform="translate(179.4 482.8) rotate(-19)" text-anchor="end" font-family="Liberation Sans" font-size="10.6" fill="#111">CD4+</text><rect x="215.4" y="447.21" width="6.4" height="24.99" fill="#fff"/><rect x="215.4" y="447.21" width="6.4" height="24.99" fill="none" stroke="#2a2a2a" stroke-width="0.9"/><rect x="221.8" y="434.34" width="6.4" height="37.86" fill="#0a0a0a" stroke="#2a2a2a" stroke-width="0.9"/><rect x="228.2" y="446.27" width="6.4" height="25.93" fill="#fff"/><clipPath id="c39"><rect x="228.2" y="446.27" width="6.4" height="25.93"/></clipPath><g clip-path="url(#c39)" stroke="#1a1a1a" stroke-width="0.85" fill="none"><path d="M228.2 430.2L234.6 435.7M228.2 437.2L234.6 442.7M228.2 444.2L234.6 449.7M228.2 451.2L234.6 456.7M228.2 458.2L234.6 463.7M228.2 465.2L234.6 470.7M228.2 472.2L234.6 477.7M228.2 479.2L234.6 484.7"/></g><rect x="228.2" y="446.27" width="6.4" height="25.93" fill="none" stroke="#2a2a2a" stroke-width="0.9"/><rect x="234.6" y="448.16" width="6.4" height="24.04" fill="#fff"/><clipPath id="c40"><rect x="234.6" y="448.16" width="6.4" height="24.04"/></clipPath><g clip-path="url(#c40)" stroke="#1a1a1a" stroke-width="0.85" fill="none"><path d="M234.6 429.6L241 436M234.6 436.7L241 443.1M234.6 443.8L241 450.2M234.6 450.9L241 457.3M234.6 458L241 464.4M234.6 465.1L241 471.5M234.6 472.2L241 478.6M234.6 479.3L241 485.7M234.6 436.7L241 430.3M234.6 443.8L241 437.4M234.6 450.9L241 444.5M234.6 458L241 451.6M234.6 465.1L241 458.7M234.6 472.2L241 465.8M234.6 479.3L241 472.9M234.6 486.4L241 480"/></g><rect x="234.6" y="448.16" width="6.4" height="24.04" fill="none" stroke="#2a2a2a" stroke-width="0.9"/><rect x="241" y="438.13" width="6.4" height="34.07" fill="#fff"/><clipPath id="c41"><rect x="241" y="438.13" width="6.4" height="34.07"/></clipPath><g clip-path="url(#c41)" stroke="#1a1a1a" stroke-width="0.85" fill="none"><path d="M241 467.2H247.4M241 462.2H247.4M241 457.2H247.4M241 452.2H247.4M241 447.2H247.4M241 442.2H247.4"/></g><rect x="241" y="438.13" width="6.4" height="34.07" fill="none" stroke="#2a2a2a" stroke-width="0.9"/><path d="M218.6 447.21V431.31" stroke="#4a4a4a" stroke-width="1" fill="none"/><path d="M214.8 431.31H222.4" stroke="#2a2a2a" stroke-width="1.1" fill="none"/><path d="M231.4 446.27V418.44" stroke="#4a4a4a" stroke-width="1" fill="none"/><path d="M227.6 418.44H235.2" stroke="#2a2a2a" stroke-width="1.1" fill="none"/><path d="M237.8 448.16V425.63" stroke="#4a4a4a" stroke-width="1" fill="none"/><path d="M234 425.63H241.6" stroke="#2a2a2a" stroke-width="1.1" fill="none"/><text transform="translate(236.4 482.8) rotate(-19)" text-anchor="end" font-family="Liberation Sans" font-size="10.6" fill="#111">CD4+CD29+</text><rect x="272.2" y="470.31" width="6.4" height="1.89" fill="#fff"/><rect x="272.2" y="470.31" width="6.4" height="1.89" fill="none" stroke="#2a2a2a" stroke-width="0.9"/><rect x="278.6" y="453.27" width="6.4" height="18.93" fill="#0a0a0a" stroke="#2a2a2a" stroke-width="0.9"/><rect x="285" y="464.63" width="6.4" height="7.57" fill="#fff"/><clipPath id="c42"><rect x="285" y="464.63" width="6.4" height="7.57"/></clipPath><g clip-path="url(#c42)" stroke="#1a1a1a" stroke-width="0.85" fill="none"><path d="M285 451.2L291.4 456.7M285 458.2L291.4 463.7M285 465.2L291.4 470.7M285 472.2L291.4 477.7M285 479.2L291.4 484.7"/></g><rect x="285" y="464.63" width="6.4" height="7.57" fill="none" stroke="#2a2a2a" stroke-width="0.9"/><rect x="291.4" y="458.38" width="6.4" height="13.82" fill="#fff"/><clipPath id="c43"><rect x="291.4" y="458.38" width="6.4" height="13.82"/></clipPath><g clip-path="url(#c43)" stroke="#1a1a1a" stroke-width="0.85" fill="none"><path d="M291.4 443.8L297.8 450.2M291.4 450.9L297.8 457.3M291.4 458L297.8 464.4M291.4 465.1L297.8 471.5M291.4 472.2L297.8 478.6M291.4 479.3L297.8 485.7M291.4 450.9L297.8 444.5M291.4 458L297.8 451.6M291.4 465.1L297.8 458.7M291.4 472.2L297.8 465.8M291.4 479.3L297.8 472.9M291.4 486.4L297.8 480"/></g><rect x="291.4" y="458.38" width="6.4" height="13.82" fill="none" stroke="#2a2a2a" stroke-width="0.9"/><rect x="297.8" y="430.55" width="6.4" height="41.65" fill="#fff"/><clipPath id="c44"><rect x="297.8" y="430.55" width="6.4" height="41.65"/></clipPath><g clip-path="url(#c44)" stroke="#1a1a1a" stroke-width="0.85" fill="none"><path d="M297.8 467.2H304.2M297.8 462.2H304.2M297.8 457.2H304.2M297.8 452.2H304.2M297.8 447.2H304.2M297.8 442.2H304.2M297.8 437.2H304.2M297.8 432.2H304.2"/></g><rect x="297.8" y="430.55" width="6.4" height="41.65" fill="none" stroke="#2a2a2a" stroke-width="0.9"/><path d="M294.6 458.38V448.54" stroke="#4a4a4a" stroke-width="1" fill="none"/><path d="M290.8 448.54H298.4" stroke="#2a2a2a" stroke-width="1.1" fill="none"/><text transform="translate(293.2 482.8) rotate(-19)" text-anchor="end" font-family="Liberation Sans" font-size="10.6" fill="#111">CD4+CD45RA+</text><rect x="328.1" y="400.64" width="6.4" height="71.56" fill="#fff"/><rect x="328.1" y="400.64" width="6.4" height="71.56" fill="none" stroke="#2a2a2a" stroke-width="0.9"/><rect x="334.5" y="454.03" width="6.4" height="18.17" fill="#0a0a0a" stroke="#2a2a2a" stroke-width="0.9"/><rect x="340.9" y="440.21" width="6.4" height="31.99" fill="#fff"/><clipPath id="c45"><rect x="340.9" y="440.21" width="6.4" height="31.99"/></clipPath><g clip-path="url(#c45)" stroke="#1a1a1a" stroke-width="0.85" fill="none"><path d="M340.9 423.2L347.3 428.7M340.9 430.2L347.3 435.7M340.9 437.2L347.3 442.7M340.9 444.2L347.3 449.7M340.9 451.2L347.3 456.7M340.9 458.2L347.3 463.7M340.9 465.2L347.3 470.7M340.9 472.2L347.3 477.7M340.9 479.2L347.3 484.7"/></g><rect x="340.9" y="440.21" width="6.4" height="31.99" fill="none" stroke="#2a2a2a" stroke-width="0.9"/><rect x="347.3" y="435.85" width="6.4" height="36.35" fill="#fff"/><clipPath id="c46"><rect x="347.3" y="435.85" width="6.4" height="36.35"/></clipPath><g clip-path="url(#c46)" stroke="#1a1a1a" stroke-width="0.85" fill="none"><path d="M347.3 415.4L353.7 421.8M347.3 422.5L353.7 428.9M347.3 429.6L353.7 436M347.3 436.7L353.7 443.1M347.3 443.8L353.7 450.2M347.3 450.9L353.7 457.3M347.3 458L353.7 464.4M347.3 465.1L353.7 471.5M347.3 472.2L353.7 478.6M347.3 479.3L353.7 485.7M347.3 422.5L353.7 416.1M347.3 429.6L353.7 423.2M347.3 436.7L353.7 430.3M347.3 443.8L353.7 437.4M347.3 450.9L353.7 444.5M347.3 458L353.7 451.6M347.3 465.1L353.7 458.7M347.3 472.2L353.7 465.8M347.3 479.3L353.7 472.9M347.3 486.4L353.7 480"/></g><rect x="347.3" y="435.85" width="6.4" height="36.35" fill="none" stroke="#2a2a2a" stroke-width="0.9"/><rect x="353.7" y="425.44" width="6.4" height="46.76" fill="#fff"/><clipPath id="c47"><rect x="353.7" y="425.44" width="6.4" height="46.76"/></clipPath><g clip-path="url(#c47)" stroke="#1a1a1a" stroke-width="0.85" fill="none"><path d="M353.7 467.2H360.1M353.7 462.2H360.1M353.7 457.2H360.1M353.7 452.2H360.1M353.7 447.2H360.1M353.7 442.2H360.1M353.7 437.2H360.1M353.7 432.2H360.1M353.7 427.2H360.1"/></g><rect x="353.7" y="425.44" width="6.4" height="46.76" fill="none" stroke="#2a2a2a" stroke-width="0.9"/><path d="M331.3 400.64V381.9" stroke="#4a4a4a" stroke-width="1" fill="none"/><path d="M327.5 381.9H335.1" stroke="#2a2a2a" stroke-width="1.1" fill="none"/><path d="M344.1 440.21V421.66" stroke="#4a4a4a" stroke-width="1" fill="none"/><path d="M340.3 421.66H347.9" stroke="#2a2a2a" stroke-width="1.1" fill="none"/><path d="M350.5 435.85V423.36" stroke="#4a4a4a" stroke-width="1" fill="none"/><path d="M346.7 423.36H354.3" stroke="#2a2a2a" stroke-width="1.1" fill="none"/><text transform="translate(349.1 482.8) rotate(-19)" text-anchor="end" font-family="Liberation Sans" font-size="10.6" fill="#111">CD8+</text><rect x="384.5" y="461.22" width="6.4" height="10.98" fill="#fff"/><rect x="384.5" y="461.22" width="6.4" height="10.98" fill="none" stroke="#2a2a2a" stroke-width="0.9"/><rect x="390.9" y="469.17" width="6.4" height="3.03" fill="#0a0a0a" stroke="#2a2a2a" stroke-width="0.9"/><rect x="397.3" y="463.11" width="6.4" height="9.09" fill="#fff"/><clipPath id="c48"><rect x="397.3" y="463.11" width="6.4" height="9.09"/></clipPath><g clip-path="url(#c48)" stroke="#1a1a1a" stroke-width="0.85" fill="none"><path d="M397.3 444.2L403.7 449.7M397.3 451.2L403.7 456.7M397.3 458.2L403.7 463.7M397.3 465.2L403.7 470.7M397.3 472.2L403.7 477.7M397.3 479.2L403.7 484.7"/></g><rect x="397.3" y="463.11" width="6.4" height="9.09" fill="none" stroke="#2a2a2a" stroke-width="0.9"/><rect x="403.7" y="461.22" width="6.4" height="10.98" fill="#fff"/><clipPath id="c49"><rect x="403.7" y="461.22" width="6.4" height="10.98"/></clipPath><g clip-path="url(#c49)" stroke="#1a1a1a" stroke-width="0.85" fill="none"><path d="M403.7 443.8L410.1 450.2M403.7 450.9L410.1 457.3M403.7 458L410.1 464.4M403.7 465.1L410.1 471.5M403.7 472.2L410.1 478.6M403.7 479.3L410.1 485.7M403.7 450.9L410.1 444.5M403.7 458L410.1 451.6M403.7 465.1L410.1 458.7M403.7 472.2L410.1 465.8M403.7 479.3L410.1 472.9M403.7 486.4L410.1 480"/></g><rect x="403.7" y="461.22" width="6.4" height="10.98" fill="none" stroke="#2a2a2a" stroke-width="0.9"/><rect x="410.1" y="465.2" width="6.4" height="7" fill="#fff"/><clipPath id="c50"><rect x="410.1" y="465.2" width="6.4" height="7"/></clipPath><g clip-path="url(#c50)" stroke="#1a1a1a" stroke-width="0.85" fill="none"><path d="M410.1 467.2H416.5"/></g><rect x="410.1" y="465.2" width="6.4" height="7" fill="none" stroke="#2a2a2a" stroke-width="0.9"/><path d="M406.9 461.22V453.08" stroke="#4a4a4a" stroke-width="1" fill="none"/><path d="M403.1 453.08H410.7" stroke="#2a2a2a" stroke-width="1.1" fill="none"/><text transform="translate(405.5 482.8) rotate(-19)" text-anchor="end" font-family="Liberation Sans" font-size="10.6" fill="#111">CD+19</text><rect x="441.7" y="454.22" width="6.4" height="17.98" fill="#fff"/><rect x="441.7" y="454.22" width="6.4" height="17.98" fill="none" stroke="#2a2a2a" stroke-width="0.9"/><rect x="448.1" y="309.21" width="6.4" height="162.99" fill="#0a0a0a" stroke="#2a2a2a" stroke-width="0.9"/><rect x="454.5" y="399.13" width="6.4" height="73.07" fill="#fff"/><clipPath id="c51"><rect x="454.5" y="399.13" width="6.4" height="73.07"/></clipPath><g clip-path="url(#c51)" stroke="#1a1a1a" stroke-width="0.85" fill="none"><path d="M454.5 381.2L460.9 386.7M454.5 388.2L460.9 393.7M454.5 395.2L460.9 400.7M454.5 402.2L460.9 407.7M454.5 409.2L460.9 414.7M454.5 416.2L460.9 421.7M454.5 423.2L460.9 428.7M454.5 430.2L460.9 435.7M454.5 437.2L460.9 442.7M454.5 444.2L460.9 449.7M454.5 451.2L460.9 456.7M454.5 458.2L460.9 463.7M454.5 465.2L460.9 470.7M454.5 472.2L460.9 477.7M454.5 479.2L460.9 484.7"/></g><rect x="454.5" y="399.13" width="6.4" height="73.07" fill="none" stroke="#2a2a2a" stroke-width="0.9"/><rect x="460.9" y="458.76" width="6.4" height="13.44" fill="#fff"/><clipPath id="c52"><rect x="460.9" y="458.76" width="6.4" height="13.44"/></clipPath><g clip-path="url(#c52)" stroke="#1a1a1a" stroke-width="0.85" fill="none"><path d="M460.9 443.8L467.3 450.2M460.9 450.9L467.3 457.3M460.9 458L467.3 464.4M460.9 465.1L467.3 471.5M460.9 472.2L467.3 478.6M460.9 479.3L467.3 485.7M460.9 450.9L467.3 444.5M460.9 458L467.3 451.6M460.9 465.1L467.3 458.7M460.9 472.2L467.3 465.8M460.9 479.3L467.3 472.9M460.9 486.4L467.3 480"/></g><rect x="460.9" y="458.76" width="6.4" height="13.44" fill="none" stroke="#2a2a2a" stroke-width="0.9"/><rect x="467.3" y="455.73" width="6.4" height="16.47" fill="#fff"/><clipPath id="c53"><rect x="467.3" y="455.73" width="6.4" height="16.47"/></clipPath><g clip-path="url(#c53)" stroke="#1a1a1a" stroke-width="0.85" fill="none"><path d="M467.3 467.2H473.7M467.3 462.2H473.7M467.3 457.2H473.7"/></g><rect x="467.3" y="455.73" width="6.4" height="16.47" fill="none" stroke="#2a2a2a" stroke-width="0.9"/><path d="M444.9 454.22V448.54" stroke="#4a4a4a" stroke-width="1" fill="none"/><path d="M441.1 448.54H448.7" stroke="#2a2a2a" stroke-width="1.1" fill="none"/><path d="M457.7 399.13V349.72" stroke="#4a4a4a" stroke-width="1" fill="none"/><path d="M453.9 349.72H461.5" stroke="#2a2a2a" stroke-width="1.1" fill="none"/><path d="M464.1 458.76V448.92" stroke="#4a4a4a" stroke-width="1" fill="none"/><path d="M460.3 448.92H467.9" stroke="#2a2a2a" stroke-width="1.1" fill="none"/><text transform="translate(462.7 482.8) rotate(-19)" text-anchor="end" font-family="Liberation Sans" font-size="10.6" fill="#111">CD3-CD56+</text><rect x="143.8" y="285.3" width="117.7" height="91.2" fill="#fff" stroke="#2a2a2a" stroke-width="1.3"/><rect x="151.4" y="293.4" width="19.5" height="11" fill="#fff"/><rect x="151.4" y="293.4" width="19.5" height="11" fill="none" stroke="#2a2a2a" stroke-width="0.9"/><text x="176" y="302.2" font-family="Liberation Sans" font-size="8.2" fill="#111" xml:space="preserve">Before BMT n=2</text><rect x="151.4" y="306.5" width="19.5" height="11" fill="#0a0a0a" stroke="#2a2a2a" stroke-width="0.9"/><text x="176" y="315.2" font-family="Liberation Sans" font-size="8.2" fill="#111" xml:space="preserve">1-2 mos post  n=1</text><rect x="151.4" y="319.5" width="19.5" height="11" fill="#fff"/><clipPath id="c54"><rect x="151.4" y="319.5" width="19.5" height="11"/></clipPath><g clip-path="url(#c54)" stroke="#1a1a1a" stroke-width="0.85" fill="none"><path d="M151.4 287.3L170.9 306.8M151.4 294.5L170.9 314M151.4 301.7L170.9 321.2M151.4 308.9L170.9 328.4M151.4 316.1L170.9 335.6M151.4 323.3L170.9 342.8M151.4 330.5L170.9 350M151.4 337.7L170.9 357.2"/></g><rect x="151.4" y="319.5" width="19.5" height="11" fill="none" stroke="#2a2a2a" stroke-width="0.9"/><text x="176" y="328" font-family="Liberation Sans" font-size="8.2" fill="#111" xml:space="preserve">3-4 mos post n=2</text><rect x="151.4" y="332.5" width="19.5" height="11" fill="#fff"/><clipPath id="c55"><rect x="151.4" y="332.5" width="19.5" height="11"/></clipPath><g clip-path="url(#c55)" stroke="#1a1a1a" stroke-width="0.85" fill="none"><path d="M151.4 300.3L170.9 319.8M151.4 307.5L170.9 327M151.4 314.7L170.9 334.2M151.4 321.9L170.9 341.4M151.4 329.1L170.9 348.6M151.4 336.3L170.9 355.8M151.4 343.5L170.9 363M151.4 350.7L170.9 370.2M151.4 321.9L170.9 302.4M151.4 329.1L170.9 309.6M151.4 336.3L170.9 316.8M151.4 343.5L170.9 324M151.4 350.7L170.9 331.2M151.4 357.9L170.9 338.4M151.4 365.1L170.9 345.6M151.4 372.3L170.9 352.8"/></g><rect x="151.4" y="332.5" width="19.5" height="11" fill="none" stroke="#2a2a2a" stroke-width="0.9"/><text x="176" y="341" font-family="Liberation Sans" font-size="8.2" fill="#111" xml:space="preserve">5-9 mos post n=2</text><rect x="151.4" y="345.5" width="19.5" height="11" fill="#fff"/><clipPath id="c56"><rect x="151.4" y="345.5" width="19.5" height="11"/></clipPath><g clip-path="url(#c56)" stroke="#1a1a1a" stroke-width="0.85" fill="none"><path d="M151.4 351H170.9"/></g><rect x="151.4" y="345.5" width="19.5" height="11" fill="none" stroke="#2a2a2a" stroke-width="0.9"/><text x="176" y="353.9" font-family="Liberation Sans" font-size="8.2" fill="#111" xml:space="preserve">10-13 mos post n=1</text><rect x="151.4" y="358.5" width="19.5" height="11" fill="#fff"/><clipPath id="c57"><rect x="151.4" y="358.5" width="19.5" height="11"/></clipPath><g clip-path="url(#c57)" stroke="#999" stroke-width="0.8" fill="none"><path d="M156.28 358.5V369.5M161.15 358.5V369.5M166.03 358.5V369.5"/></g><rect x="151.4" y="358.5" width="19.5" height="11" fill="none" stroke="#2a2a2a" stroke-width="0.9"/><text x="176" y="366.7" font-family="Liberation Sans" font-size="8.2" fill="#111" xml:space="preserve">18 mos post bmt n=0</text><text x="34" y="504.8" font-family="Liberation Sans" font-weight="bold" font-size="12.6" fill="#111">C.</text><text transform="translate(14.8 618) rotate(-90)" text-anchor="middle" font-family="Liberation Sans" font-size="12.6" fill="#111" xml:space="preserve">%  CD45+ Events</text><path d="M53.3 713.4H61.5" stroke="#2a2a2a" stroke-width="1"/><text x="47" y="716.3" text-anchor="end" font-family="Liberation Sans" font-size="12.4" fill="#111">0</text><path d="M53.3 675.66H61.5" stroke="#2a2a2a" stroke-width="1"/><text x="47" y="678.56" text-anchor="end" font-family="Liberation Sans" font-size="12.4" fill="#111">20</text><path d="M53.3 637.92H61.5" stroke="#2a2a2a" stroke-width="1"/><text x="47" y="640.82" text-anchor="end" font-family="Liberation Sans" font-size="12.4" fill="#111">40</text><path d="M53.3 600.18H61.5" stroke="#2a2a2a" stroke-width="1"/><text x="47" y="603.08" text-anchor="end" font-family="Liberation Sans" font-size="12.4" fill="#111">60</text><path d="M53.3 562.44H61.5" stroke="#2a2a2a" stroke-width="1"/><text x="47" y="565.34" text-anchor="end" font-family="Liberation Sans" font-size="12.4" fill="#111">80</text><path d="M53.3 524.7H61.5" stroke="#2a2a2a" stroke-width="1"/><text x="47" y="527.6" text-anchor="end" font-family="Liberation Sans" font-size="12.4" fill="#111">100</text><path d="M61.5 524.7V713.4L290 713.3L300 714.2L325 714.3L340 713.4L516.4 713.4V524.7L61.5 524.7" fill="none" stroke="#2a2a2a" stroke-width="1.1" stroke-linejoin="round"/><path d="M53.3 713.4H61.5" stroke="#2a2a2a" stroke-width="1.1"/><rect x="99.6" y="564.14" width="6.35" height="149.26" fill="#fff"/><rect x="99.6" y="564.14" width="6.35" height="149.26" fill="none" stroke="#2a2a2a" stroke-width="0.9"/><rect x="105.95" y="618.48" width="6.35" height="94.92" fill="#0a0a0a" stroke="#2a2a2a" stroke-width="0.9"/><rect x="118.65" y="584.52" width="6.35" height="128.88" fill="#fff"/><clipPath id="c58"><rect x="118.65" y="584.52" width="6.35" height="128.88"/></clipPath><g clip-path="url(#c58)" stroke="#1a1a1a" stroke-width="0.85" fill="none"><path d="M118.65 564.3L125 570.65M118.65 571.4L125 577.75M118.65 578.5L125 584.85M118.65 585.6L125 591.95M118.65 592.7L125 599.05M118.65 599.8L125 606.15M118.65 606.9L125 613.25M118.65 614L125 620.35M118.65 621.1L125 627.45M118.65 628.2L125 634.55M118.65 635.3L125 641.65M118.65 642.4L125 648.75M118.65 649.5L125 655.85M118.65 656.6L125 662.95M118.65 663.7L125 670.05M118.65 670.8L125 677.15M118.65 677.9L125 684.25M118.65 685L125 691.35M118.65 692.1L125 698.45M118.65 699.2L125 705.55M118.65 706.3L125 712.65M118.65 713.4L125 719.75M118.65 720.5L125 726.85M118.65 571.4L125 565.05M118.65 578.5L125 572.15M118.65 585.6L125 579.25M118.65 592.7L125 586.35M118.65 599.8L125 593.45M118.65 606.9L125 600.55M118.65 614L125 607.65M118.65 621.1L125 614.75M118.65 628.2L125 621.85M118.65 635.3L125 628.95M118.65 642.4L125 636.05M118.65 649.5L125 643.15M118.65 656.6L125 650.25M118.65 663.7L125 657.35M118.65 670.8L125 664.45M118.65 677.9L125 671.55M118.65 685L125 678.65M118.65 692.1L125 685.75M118.65 699.2L125 692.85M118.65 706.3L125 699.95M118.65 713.4L125 707.05M118.65 720.5L125 714.15M118.65 727.6L125 721.25"/></g><rect x="118.65" y="584.52" width="6.35" height="128.88" fill="none" stroke="#2a2a2a" stroke-width="0.9"/><rect x="125" y="586.4" width="6.35" height="127" fill="#fff"/><clipPath id="c59"><rect x="125" y="586.4" width="6.35" height="127"/></clipPath><g clip-path="url(#c59)" stroke="#1a1a1a" stroke-width="0.85" fill="none"><path d="M125 708.4H131.35M125 703.4H131.35M125 698.4H131.35M125 693.4H131.35M125 688.4H131.35M125 683.4H131.35M125 678.4H131.35M125 673.4H131.35M125 668.4H131.35M125 663.4H131.35M125 658.4H131.35M125 653.4H131.35M125 648.4H131.35M125 643.4H131.35M125 638.4H131.35M125 633.4H131.35M125 628.4H131.35M125 623.4H131.35M125 618.4H131.35M125 613.4H131.35M125 608.4H131.35M125 603.4H131.35M125 598.4H131.35M125 593.4H131.35M125 588.4H131.35"/></g><rect x="125" y="586.4" width="6.35" height="127" fill="none" stroke="#2a2a2a" stroke-width="0.9"/><path d="M102.77 564.14V556.02" stroke="#4a4a4a" stroke-width="1" fill="none"/><path d="M98.97 556.02H106.57" stroke="#2a2a2a" stroke-width="1.1" fill="none"/><path d="M109.12 618.48V605.09" stroke="#4a4a4a" stroke-width="1" fill="none"/><path d="M105.32 605.09H112.92" stroke="#2a2a2a" stroke-width="1.1" fill="none"/><text transform="translate(121.2 723.5) rotate(-19)" text-anchor="end" font-family="Liberation Sans" font-size="10.6" fill="#111">CD3+</text><rect x="157.1" y="610.56" width="6.35" height="102.84" fill="#fff"/><rect x="157.1" y="610.56" width="6.35" height="102.84" fill="none" stroke="#2a2a2a" stroke-width="0.9"/><rect x="163.45" y="694.72" width="6.35" height="18.68" fill="#0a0a0a" stroke="#2a2a2a" stroke-width="0.9"/><rect x="176.15" y="687.17" width="6.35" height="26.23" fill="#fff"/><clipPath id="c60"><rect x="176.15" y="687.17" width="6.35" height="26.23"/></clipPath><g clip-path="url(#c60)" stroke="#1a1a1a" stroke-width="0.85" fill="none"><path d="M176.15 670.8L182.5 677.15M176.15 677.9L182.5 684.25M176.15 685L182.5 691.35M176.15 692.1L182.5 698.45M176.15 699.2L182.5 705.55M176.15 706.3L182.5 712.65M176.15 713.4L182.5 719.75M176.15 720.5L182.5 726.85M176.15 677.9L182.5 671.55M176.15 685L182.5 678.65M176.15 692.1L182.5 685.75M176.15 699.2L182.5 692.85M176.15 706.3L182.5 699.95M176.15 713.4L182.5 707.05M176.15 720.5L182.5 714.15M176.15 727.6L182.5 721.25"/></g><rect x="176.15" y="687.17" width="6.35" height="26.23" fill="none" stroke="#2a2a2a" stroke-width="0.9"/><rect x="182.5" y="679.62" width="6.35" height="33.78" fill="#fff"/><clipPath id="c61"><rect x="182.5" y="679.62" width="6.35" height="33.78"/></clipPath><g clip-path="url(#c61)" stroke="#1a1a1a" stroke-width="0.85" fill="none"><path d="M182.5 708.4H188.85M182.5 703.4H188.85M182.5 698.4H188.85M182.5 693.4H188.85M182.5 688.4H188.85M182.5 683.4H188.85"/></g><rect x="182.5" y="679.62" width="6.35" height="33.78" fill="none" stroke="#2a2a2a" stroke-width="0.9"/><path d="M160.28 610.56V606.97" stroke="#4a4a4a" stroke-width="1" fill="none"/><path d="M156.47 606.97H164.08" stroke="#2a2a2a" stroke-width="1.1" fill="none"/><path d="M166.62 694.72V683.59" stroke="#4a4a4a" stroke-width="1" fill="none"/><path d="M162.82 683.59H170.43" stroke="#2a2a2a" stroke-width="1.1" fill="none"/><text transform="translate(178.7 723.5) rotate(-19)" text-anchor="end" font-family="Liberation Sans" font-size="10.6" fill="#111">CD4+</text><rect x="214.2" y="651.51" width="6.35" height="61.89" fill="#fff"/><rect x="214.2" y="651.51" width="6.35" height="61.89" fill="none" stroke="#2a2a2a" stroke-width="0.9"/><rect x="220.55" y="693.59" width="6.35" height="19.81" fill="#0a0a0a" stroke="#2a2a2a" stroke-width="0.9"/><rect x="233.25" y="684.15" width="6.35" height="29.25" fill="#fff"/><clipPath id="c62"><rect x="233.25" y="684.15" width="6.35" height="29.25"/></clipPath><g clip-path="url(#c62)" stroke="#1a1a1a" stroke-width="0.85" fill="none"><path d="M233.25 663.7L239.6 670.05M233.25 670.8L239.6 677.15M233.25 677.9L239.6 684.25M233.25 685L239.6 691.35M233.25 692.1L239.6 698.45M233.25 699.2L239.6 705.55M233.25 706.3L239.6 712.65M233.25 713.4L239.6 719.75M233.25 720.5L239.6 726.85M233.25 670.8L239.6 664.45M233.25 677.9L239.6 671.55M233.25 685L239.6 678.65M233.25 692.1L239.6 685.75M233.25 699.2L239.6 692.85M233.25 706.3L239.6 699.95M233.25 713.4L239.6 707.05M233.25 720.5L239.6 714.15M233.25 727.6L239.6 721.25"/></g><rect x="233.25" y="684.15" width="6.35" height="29.25" fill="none" stroke="#2a2a2a" stroke-width="0.9"/><rect x="239.6" y="682.64" width="6.35" height="30.76" fill="#fff"/><clipPath id="c63"><rect x="239.6" y="682.64" width="6.35" height="30.76"/></clipPath><g clip-path="url(#c63)" stroke="#1a1a1a" stroke-width="0.85" fill="none"><path d="M239.6 708.4H245.95M239.6 703.4H245.95M239.6 698.4H245.95M239.6 693.4H245.95M239.6 688.4H245.95"/></g><rect x="239.6" y="682.64" width="6.35" height="30.76" fill="none" stroke="#2a2a2a" stroke-width="0.9"/><path d="M217.38 651.51V648.68" stroke="#4a4a4a" stroke-width="1" fill="none"/><path d="M213.57 648.68H221.18" stroke="#2a2a2a" stroke-width="1.1" fill="none"/><path d="M223.72 693.59V680.38" stroke="#4a4a4a" stroke-width="1" fill="none"/><path d="M219.92 680.38H227.53" stroke="#2a2a2a" stroke-width="1.1" fill="none"/><text transform="translate(235.8 723.5) rotate(-19)" text-anchor="end" font-family="Liberation Sans" font-size="10.6" fill="#111">CD4+CD29+</text><rect x="270.3" y="680.38" width="6.35" height="33.02" fill="#fff"/><rect x="270.3" y="680.38" width="6.35" height="33.02" fill="none" stroke="#2a2a2a" stroke-width="0.9"/><rect x="276.65" y="711.89" width="6.35" height="1.51" fill="#0a0a0a" stroke="#2a2a2a" stroke-width="0.9"/><rect x="289.35" y="711.51" width="6.35" height="1.89" fill="#fff"/><clipPath id="c64"><rect x="289.35" y="711.51" width="6.35" height="1.89"/></clipPath><g clip-path="url(#c64)" stroke="#1a1a1a" stroke-width="0.85" fill="none"><path d="M289.35 692.1L295.7 698.45M289.35 699.2L295.7 705.55M289.35 706.3L295.7 712.65M289.35 713.4L295.7 719.75M289.35 720.5L295.7 726.85M289.35 699.2L295.7 692.85M289.35 706.3L295.7 699.95M289.35 713.4L295.7 707.05M289.35 720.5L295.7 714.15M289.35 727.6L295.7 721.25"/></g><rect x="289.35" y="711.51" width="6.35" height="1.89" fill="none" stroke="#2a2a2a" stroke-width="0.9"/><rect x="295.7" y="709.81" width="6.35" height="3.59" fill="#fff"/><clipPath id="c65"><rect x="295.7" y="709.81" width="6.35" height="3.59"/></clipPath><g clip-path="url(#c65)" stroke="#1a1a1a" stroke-width="0.85" fill="none"><path d=""/></g><rect x="295.7" y="709.81" width="6.35" height="3.59" fill="none" stroke="#2a2a2a" stroke-width="0.9"/><path d="M273.48 680.38V653.58" stroke="#4a4a4a" stroke-width="1" fill="none"/><path d="M269.68 653.58H277.28" stroke="#2a2a2a" stroke-width="1.1" fill="none"/><text transform="translate(291.9 723.5) rotate(-19)" text-anchor="end" font-family="Liberation Sans" font-size="10.6" fill="#111">CD4+CD45RA+</text><rect x="327.1" y="673.4" width="6.35" height="40" fill="#fff"/><rect x="327.1" y="673.4" width="6.35" height="40" fill="none" stroke="#2a2a2a" stroke-width="0.9"/><rect x="333.45" y="648.86" width="6.35" height="64.54" fill="#0a0a0a" stroke="#2a2a2a" stroke-width="0.9"/><rect x="346.15" y="616.97" width="6.35" height="96.43" fill="#fff"/><clipPath id="c66"><rect x="346.15" y="616.97" width="6.35" height="96.43"/></clipPath><g clip-path="url(#c66)" stroke="#1a1a1a" stroke-width="0.85" fill="none"><path d="M346.15 599.8L352.5 606.15M346.15 606.9L352.5 613.25M346.15 614L352.5 620.35M346.15 621.1L352.5 627.45M346.15 628.2L352.5 634.55M346.15 635.3L352.5 641.65M346.15 642.4L352.5 648.75M346.15 649.5L352.5 655.85M346.15 656.6L352.5 662.95M346.15 663.7L352.5 670.05M346.15 670.8L352.5 677.15M346.15 677.9L352.5 684.25M346.15 685L352.5 691.35M346.15 692.1L352.5 698.45M346.15 699.2L352.5 705.55M346.15 706.3L352.5 712.65M346.15 713.4L352.5 719.75M346.15 720.5L352.5 726.85M346.15 606.9L352.5 600.55M346.15 614L352.5 607.65M346.15 621.1L352.5 614.75M346.15 628.2L352.5 621.85M346.15 635.3L352.5 628.95M346.15 642.4L352.5 636.05M346.15 649.5L352.5 643.15M346.15 656.6L352.5 650.25M346.15 663.7L352.5 657.35M346.15 670.8L352.5 664.45M346.15 677.9L352.5 671.55M346.15 685L352.5 678.65M346.15 692.1L352.5 685.75M346.15 699.2L352.5 692.85M346.15 706.3L352.5 699.95M346.15 713.4L352.5 707.05M346.15 720.5L352.5 714.15M346.15 727.6L352.5 721.25"/></g><rect x="346.15" y="616.97" width="6.35" height="96.43" fill="none" stroke="#2a2a2a" stroke-width="0.9"/><rect x="352.5" y="623.39" width="6.35" height="90.01" fill="#fff"/><clipPath id="c67"><rect x="352.5" y="623.39" width="6.35" height="90.01"/></clipPath><g clip-path="url(#c67)" stroke="#1a1a1a" stroke-width="0.85" fill="none"><path d="M352.5 708.4H358.85M352.5 703.4H358.85M352.5 698.4H358.85M352.5 693.4H358.85M352.5 688.4H358.85M352.5 683.4H358.85M352.5 678.4H358.85M352.5 673.4H358.85M352.5 668.4H358.85M352.5 663.4H358.85M352.5 658.4H358.85M352.5 653.4H358.85M352.5 648.4H358.85M352.5 643.4H358.85M352.5 638.4H358.85M352.5 633.4H358.85M352.5 628.4H358.85"/></g><rect x="352.5" y="623.39" width="6.35" height="90.01" fill="none" stroke="#2a2a2a" stroke-width="0.9"/><path d="M330.28 673.4V661.88" stroke="#4a4a4a" stroke-width="1" fill="none"/><path d="M326.48 661.88H334.08" stroke="#2a2a2a" stroke-width="1.1" fill="none"/><path d="M336.63 648.86V619.62" stroke="#4a4a4a" stroke-width="1" fill="none"/><path d="M332.83 619.62H340.43" stroke="#2a2a2a" stroke-width="1.1" fill="none"/><text transform="translate(348.7 723.5) rotate(-19)" text-anchor="end" font-family="Liberation Sans" font-size="10.6" fill="#111">CD8+</text><rect x="383.5" y="699.44" width="6.35" height="13.96" fill="#fff"/><rect x="383.5" y="699.44" width="6.35" height="13.96" fill="none" stroke="#2a2a2a" stroke-width="0.9"/><rect x="389.85" y="698.12" width="6.35" height="15.28" fill="#0a0a0a" stroke="#2a2a2a" stroke-width="0.9"/><rect x="402.55" y="695.1" width="6.35" height="18.3" fill="#fff"/><clipPath id="c68"><rect x="402.55" y="695.1" width="6.35" height="18.3"/></clipPath><g clip-path="url(#c68)" stroke="#1a1a1a" stroke-width="0.85" fill="none"><path d="M402.55 677.9L408.9 684.25M402.55 685L408.9 691.35M402.55 692.1L408.9 698.45M402.55 699.2L408.9 705.55M402.55 706.3L408.9 712.65M402.55 713.4L408.9 719.75M402.55 720.5L408.9 726.85M402.55 685L408.9 678.65M402.55 692.1L408.9 685.75M402.55 699.2L408.9 692.85M402.55 706.3L408.9 699.95M402.55 713.4L408.9 707.05M402.55 720.5L408.9 714.15M402.55 727.6L408.9 721.25"/></g><rect x="402.55" y="695.1" width="6.35" height="18.3" fill="none" stroke="#2a2a2a" stroke-width="0.9"/><rect x="408.9" y="683.96" width="6.35" height="29.44" fill="#fff"/><clipPath id="c69"><rect x="408.9" y="683.96" width="6.35" height="29.44"/></clipPath><g clip-path="url(#c69)" stroke="#1a1a1a" stroke-width="0.85" fill="none"><path d="M408.9 708.4H415.25M408.9 703.4H415.25M408.9 698.4H415.25M408.9 693.4H415.25M408.9 688.4H415.25"/></g><rect x="408.9" y="683.96" width="6.35" height="29.44" fill="none" stroke="#2a2a2a" stroke-width="0.9"/><path d="M386.68 699.44V690.57" stroke="#4a4a4a" stroke-width="1" fill="none"/><path d="M382.88 690.57H390.48" stroke="#2a2a2a" stroke-width="1.1" fill="none"/><path d="M393.03 698.12V677.92" stroke="#4a4a4a" stroke-width="1" fill="none"/><path d="M389.23 677.92H396.83" stroke="#2a2a2a" stroke-width="1.1" fill="none"/><text transform="translate(405.1 723.5) rotate(-19)" text-anchor="end" font-family="Liberation Sans" font-size="10.6" fill="#111">CD+19</text><rect x="440.4" y="707.17" width="6.35" height="6.23" fill="#fff"/><rect x="440.4" y="707.17" width="6.35" height="6.23" fill="none" stroke="#2a2a2a" stroke-width="0.9"/><rect x="446.75" y="658.11" width="6.35" height="55.29" fill="#0a0a0a" stroke="#2a2a2a" stroke-width="0.9"/><rect x="459.45" y="698.49" width="6.35" height="14.91" fill="#fff"/><clipPath id="c70"><rect x="459.45" y="698.49" width="6.35" height="14.91"/></clipPath><g clip-path="url(#c70)" stroke="#1a1a1a" stroke-width="0.85" fill="none"><path d="M459.45 685L465.8 691.35M459.45 692.1L465.8 698.45M459.45 699.2L465.8 705.55M459.45 706.3L465.8 712.65M459.45 713.4L465.8 719.75M459.45 720.5L465.8 726.85M459.45 685L465.8 678.65M459.45 692.1L465.8 685.75M459.45 699.2L465.8 692.85M459.45 706.3L465.8 699.95M459.45 713.4L465.8 707.05M459.45 720.5L465.8 714.15M459.45 727.6L465.8 721.25"/></g><rect x="459.45" y="698.49" width="6.35" height="14.91" fill="none" stroke="#2a2a2a" stroke-width="0.9"/><rect x="465.8" y="698.49" width="6.35" height="14.91" fill="#fff"/><clipPath id="c71"><rect x="465.8" y="698.49" width="6.35" height="14.91"/></clipPath><g clip-path="url(#c71)" stroke="#1a1a1a" stroke-width="0.85" fill="none"><path d="M465.8 708.4H472.15M465.8 703.4H472.15"/></g><rect x="465.8" y="698.49" width="6.35" height="14.91" fill="none" stroke="#2a2a2a" stroke-width="0.9"/><path d="M443.57 707.17V702.64" stroke="#4a4a4a" stroke-width="1" fill="none"/><path d="M439.77 702.64H447.38" stroke="#2a2a2a" stroke-width="1.1" fill="none"/><path d="M449.93 658.11V635.28" stroke="#4a4a4a" stroke-width="1" fill="none"/><path d="M446.12 635.28H453.73" stroke="#2a2a2a" stroke-width="1.1" fill="none"/><text transform="translate(462 723.5) rotate(-19)" text-anchor="end" font-family="Liberation Sans" font-size="10.6" fill="#111">CD3-CD56+</text><rect x="175.4" y="533.5" width="113.1" height="90.9" fill="#fff" stroke="#2a2a2a" stroke-width="1.3"/><rect x="182.3" y="541.5" width="19.5" height="11.4" fill="#fff"/><rect x="182.3" y="541.5" width="19.5" height="11.4" fill="none" stroke="#2a2a2a" stroke-width="0.9"/><text x="206.8" y="550.4" font-family="Liberation Sans" font-size="8.2" fill="#111" xml:space="preserve">Before BMT n=2</text><rect x="182.3" y="554.6" width="19.5" height="11.4" fill="#0a0a0a" stroke="#2a2a2a" stroke-width="0.9"/><text x="206.8" y="563.3" font-family="Liberation Sans" font-size="8.2" fill="#111" xml:space="preserve">1-2 mos post n=2</text><rect x="182.3" y="567.6" width="19.5" height="11.4" fill="#fff"/><clipPath id="c72"><rect x="182.3" y="567.6" width="19.5" height="11.4"/></clipPath><g clip-path="url(#c72)" stroke="#1a1a1a" stroke-width="0.85" fill="none"><path d="M182.3 535.8L201.8 555.3M182.3 543L201.8 562.5M182.3 550.2L201.8 569.7M182.3 557.4L201.8 576.9M182.3 564.6L201.8 584.1M182.3 571.8L201.8 591.3M182.3 579L201.8 598.5M182.3 586.2L201.8 605.7"/></g><rect x="182.3" y="567.6" width="19.5" height="11.4" fill="none" stroke="#2a2a2a" stroke-width="0.9"/><text x="206.8" y="576.3" font-family="Liberation Sans" font-size="8.2" fill="#111" xml:space="preserve">3-4 mos post n=0</text><rect x="182.3" y="580.4" width="19.5" height="11.4" fill="#fff"/><clipPath id="c73"><rect x="182.3" y="580.4" width="19.5" height="11.4"/></clipPath><g clip-path="url(#c73)" stroke="#1a1a1a" stroke-width="0.85" fill="none"><path d="M182.3 548.6L201.8 568.1M182.3 555.8L201.8 575.3M182.3 563L201.8 582.5M182.3 570.2L201.8 589.7M182.3 577.4L201.8 596.9M182.3 584.6L201.8 604.1M182.3 591.8L201.8 611.3M182.3 599L201.8 618.5M182.3 570.2L201.8 550.7M182.3 577.4L201.8 557.9M182.3 584.6L201.8 565.1M182.3 591.8L201.8 572.3M182.3 599L201.8 579.5M182.3 606.2L201.8 586.7M182.3 613.4L201.8 593.9M182.3 620.6L201.8 601.1"/></g><rect x="182.3" y="580.4" width="19.5" height="11.4" fill="none" stroke="#2a2a2a" stroke-width="0.9"/><text x="206.8" y="589.2" font-family="Liberation Sans" font-size="8.2" fill="#111" xml:space="preserve">5-9 mos post n=1</text><rect x="182.3" y="593.3" width="19.5" height="11.4" fill="#fff"/><clipPath id="c74"><rect x="182.3" y="593.3" width="19.5" height="11.4"/></clipPath><g clip-path="url(#c74)" stroke="#1a1a1a" stroke-width="0.85" fill="none"><path d="M182.3 599H201.8"/></g><rect x="182.3" y="593.3" width="19.5" height="11.4" fill="none" stroke="#2a2a2a" stroke-width="0.9"/><text x="206.8" y="602.2" font-family="Liberation Sans" font-size="8.2" fill="#111" xml:space="preserve">10-13 mos post n=1</text><rect x="182.3" y="606.2" width="19.5" height="11.4" fill="#fff"/><clipPath id="c75"><rect x="182.3" y="606.2" width="19.5" height="11.4"/></clipPath><g clip-path="url(#c75)" stroke="#999" stroke-width="0.8" fill="none"><path d="M187.18 606.2V617.6M192.05 606.2V617.6M196.93 606.2V617.6"/></g><rect x="182.3" y="606.2" width="19.5" height="11.4" fill="none" stroke="#2a2a2a" stroke-width="0.9"/><text x="206.8" y="615" font-family="Liberation Sans" font-size="8.2" fill="#111" xml:space="preserve">18 mos post n=0</text></svg></body></html>
